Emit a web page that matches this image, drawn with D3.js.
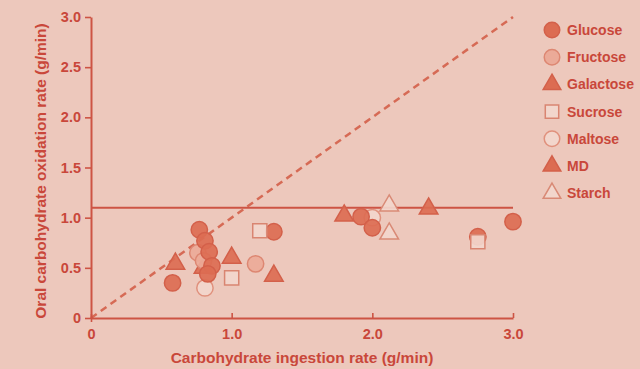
<!DOCTYPE html>
<html>
<head>
<meta charset="utf-8">
<script src="https://cdn.jsdelivr.net/npm/d3@7"></script>
<style>
  html, body { margin: 0; padding: 0; background: #edc8bc; }
  svg { display: block; }
  text { font-family: "Liberation Sans", Arial, sans-serif; font-weight: bold; fill: #c9473a; }
</style>
</head>
<body>
<svg id="chart" width="640" height="369"></svg>
<script>
// Carbohydrate ingestion rate (g/min) vs oral carbohydrate oxidation rate (g/min)
const glucose   = [[0.58, 0.35], [0.77, 0.88], [0.81, 0.77], [0.84, 0.66], [0.86, 0.52], [0.83, 0.44],
                   [1.30, 0.86], [1.92, 1.01], [2.00, 0.90], [3.00, 0.96], [2.75, 0.81]];
const fructose  = [[0.76, 0.65], [0.80, 0.57], [1.17, 0.54]];
const galactose = [[0.60, 0.54], [1.00, 0.60], [1.30, 0.42], [0.80, 0.50]];
const sucrose   = [[1.20, 0.87], [1.00, 0.40], [2.75, 0.76]];
const maltose   = [[0.81, 0.30], [2.00, 1.00]];
const md        = [[1.80, 1.02], [2.40, 1.09]];
const starch    = [[2.12, 1.12], [2.12, 0.84]];

const xTicks = [0, 1, 2, 3];
const xTickLabels = ["0", "1.0", "2.0", "3.0"];
const yTicks = [0, 0.5, 1, 1.5, 2, 2.5, 3];
const yTickLabels = ["0", "0.5", "1.0", "1.5", "2.0", "2.5", "3.0"];
const plateau = 1.1;

const axisColor = "#cd5444";
const svg = d3.select("#chart");

const x = d3.scaleLinear().domain([0, 3]).range([91, 513]);
const y = d3.scaleLinear().domain([0, 3]).range([318, 17]);

// series styles: symbol type and colours
const series = [
  { name: "Glucose",   data: glucose,   sym: d3.symbolCircle,   size: 210, fill: "#dc6c52", stroke: "#d3604a" },
  { name: "Fructose",  data: fructose,  sym: d3.symbolCircle,   size: 210, fill: "#ebaa98", stroke: "#dd8772" },
  { name: "Galactose", data: galactose, sym: d3.symbolTriangle, size: 150, fill: "#dc6c52", stroke: "#d3604a" },
  { name: "Sucrose",   data: sucrose,   sym: d3.symbolSquare,   size: 200, fill: "#f2d6cc", stroke: "#d98571" },
  { name: "Maltose",   data: maltose,   sym: d3.symbolCircle,   size: 210, fill: "#f2d6cc", stroke: "#e0917d" },
  { name: "MD",        data: md,        sym: d3.symbolTriangle, size: 150, fill: "#dc6c52", stroke: "#d3604a" },
  { name: "Starch",    data: starch,    sym: d3.symbolTriangle, size: 150, fill: "#f2d6cc", stroke: "#d98a76" }
];

// identity line
svg.append("line")
  .attr("x1", x(0)).attr("y1", y(0)).attr("x2", x(3)).attr("y2", y(3))
  .attr("stroke", "#d66a55").attr("stroke-width", 2.5).attr("stroke-dasharray", "7,5");

// plateau line
svg.append("line")
  .attr("x1", x(0)).attr("y1", y(plateau)).attr("x2", x(3)).attr("y2", y(plateau))
  .attr("stroke", axisColor).attr("stroke-width", 2);

// axes
const xAxis = d3.axisBottom(x).tickValues(xTicks).tickFormat((d, i) => xTickLabels[i])
  .tickSizeInner(-5).tickSizeOuter(0).tickPadding(11);
const gx = svg.append("g").attr("transform", `translate(0,${y(0)})`).call(xAxis);

const yAxis = d3.axisLeft(y).tickValues(yTicks).tickFormat((d, i) => yTickLabels[i])
  .tickSizeInner(6).tickSizeOuter(0).tickPadding(4);
const gy = svg.append("g").attr("transform", `translate(${x(0)},0)`).call(yAxis);

[gx, gy].forEach(g => {
  g.select(".domain").attr("stroke", axisColor).attr("stroke-width", 2);
  g.selectAll(".tick line").attr("stroke", axisColor).attr("stroke-width", 1.6);
  g.selectAll(".tick text").attr("fill", "#c9473a")
    .style("font-family", "'Liberation Sans', Arial, sans-serif")
    .style("font-weight", "bold").style("font-size", "14.5px");
});
gx.select(".tick line").attr("y2", 4).attr("y1", -4);

// points, drawn series by series
const pointOrder = ["Maltose", "Galactose", "Fructose", "Glucose", "Sucrose", "MD", "Starch"];
pointOrder.forEach(n => {
  const s = series.find(d => d.name === n);
  svg.append("g").selectAll("path").data(s.data).join("path")
    .attr("transform", d => `translate(${x(d[0])},${y(d[1])})`)
    .attr("d", d3.symbol().type(s.sym).size(s.size))
    .attr("fill", s.fill).attr("fill-opacity", 0.92)
    .attr("stroke", s.stroke).attr("stroke-width", 1.5);
});

// legend
const legend = svg.append("g");
series.forEach((s, i) => {
  const ly = 30 + i * 27.2;
  legend.append("path")
    .attr("transform", `translate(552,${ly})`)
    .attr("d", d3.symbol().type(s.sym).size(s.size * 0.9))
    .attr("fill", s.fill).attr("stroke", s.stroke).attr("stroke-width", 1.5);
  legend.append("text").attr("x", 567).attr("y", ly + 5)
    .style("font-size", "14px").text(s.name);
});

// axis titles
svg.append("text").attr("x", 302).attr("y", 363).attr("text-anchor", "middle")
  .style("font-size", "15.5px").text("Carbohydrate ingestion rate (g/min)");
svg.append("text").attr("transform", "translate(46,171) rotate(-90)").attr("text-anchor", "middle")
  .style("font-size", "15.5px").text("Oral carbohydrate oxidation rate (g/min)");
</script>
</body>
</html>
